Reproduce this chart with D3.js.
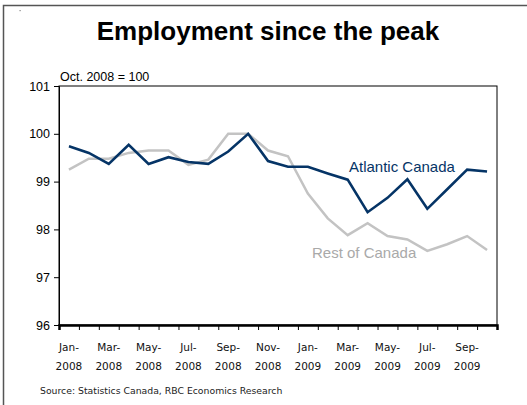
<!DOCTYPE html>
<html>
<head>
<meta charset="utf-8">
<script src="https://cdn.jsdelivr.net/npm/d3@7"></script>
<style>
  body { margin: 0; background: #fff; }
  svg { display: block; }
</style>
</head>
<body>
<div id="chart"></div>
<script>
// Data
const months = ["Jan-2008", "Feb-2008", "Mar-2008", "Apr-2008", "May-2008", "Jun-2008",
  "Jul-2008", "Aug-2008", "Sep-2008", "Oct-2008", "Nov-2008", "Dec-2008",
  "Jan-2009", "Feb-2009", "Mar-2009", "Apr-2009", "May-2009", "Jun-2009",
  "Jul-2009", "Aug-2009", "Sep-2009", "Oct-2009"];
const atlantic = [99.74, 99.60, 99.37, 99.77, 99.37, 99.51, 99.41, 99.37, 99.63, 100.0, 99.43,
  99.31, 99.31, 99.17, 99.04, 98.36, 98.66, 99.05, 98.43, 98.84, 99.25, 99.21];
const restOfCanada = [99.25, 99.48, 99.48, 99.60, 99.65, 99.65, 99.35, 99.46, 100.0, 100.0, 99.65,
  99.53, 98.75, 98.23, 97.88, 98.13, 97.86, 97.79, 97.55, 97.69, 97.86, 97.57];
const yTicks = [96, 97, 98, 99, 100, 101];

const width = 527;
const height = 405;
const margin = { top: 86, right: 30, bottom: 80, left: 59 };

const svg = d3.select("#chart")
  .append("svg")
  .attr("width", width)
  .attr("height", height);

// outer frame (only top/left show in the picture)
svg.append("rect")
  .attr("x", 3.5).attr("y", 5.5)
  .attr("width", 560).attr("height", 440)
  .attr("fill", "none")
  .attr("stroke", "#555")
  .attr("stroke-width", 1.5);
svg.append("rect")
  .attr("x", 19.5).attr("y", 10).attr("width", 1.2).attr("height", 1.2)
  .attr("fill", "#888");

// title
svg.append("text")
  .attr("x", 268).attr("y", 40)
  .attr("text-anchor", "middle")
  .attr("font-family", "Liberation Sans, Arial, sans-serif")
  .attr("font-weight", "bold")
  .attr("font-size", 26)
  .text("Employment since the peak");

svg.append("text")
  .attr("x", 60).attr("y", 81)
  .attr("font-family", "Liberation Sans, Arial, sans-serif")
  .attr("font-size", 12.5)
  .text("Oct. 2008 = 100");

// Scales
const x = d3.scaleBand()
  .domain(months)
  .range([margin.left, width - margin.right])
  .padding(0);

const y = d3.scaleLinear()
  .domain([96, 101])
  .range([height - margin.bottom, margin.top]);

// index scale for the tick marks at band edges
const xEdge = d3.scaleLinear()
  .domain([0, months.length])
  .range(x.range());

// plot frame
svg.append("rect")
  .attr("x", margin.left).attr("y", margin.top)
  .attr("width", x.range()[1] - margin.left)
  .attr("height", y(96) - margin.top)
  .attr("fill", "none")
  .attr("stroke", "#000")
  .attr("stroke-width", 1);

// Axes
const yAxis = svg.append("g")
  .attr("transform", `translate(${margin.left},0)`)
  .call(d3.axisLeft(y).tickValues(yTicks).tickSize(5).tickPadding(4).tickFormat(d3.format("d")));
yAxis.select(".domain").attr("stroke", "#000");
yAxis.selectAll("text")
  .attr("font-family", "Liberation Sans, Arial, sans-serif")
  .attr("font-size", 12.5)
  .attr("fill", "#000");

const xAxis = svg.append("g")
  .attr("transform", `translate(0,${y(96)})`)
  .call(d3.axisBottom(xEdge).tickValues(d3.range(months.length + 1)).tickSize(5).tickFormat(""));
xAxis.select(".domain").attr("stroke", "#000").attr("stroke-width", 2.5);

// month labels, every other month, two lines
const labelled = months.filter((d, i) => i % 2 === 0);
const lbl = svg.append("g")
  .attr("font-family", "DejaVu Sans, Verdana, sans-serif")
  .attr("font-size", 10.5)
  .attr("fill", "#111")
  .attr("text-anchor", "middle");
lbl.selectAll("text")
  .data(labelled)
  .join("text")
  .attr("x", d => x(d) + x.bandwidth() / 2)
  .attr("y", 351)
  .each(function (d) {
    const parts = d.split("-");
    d3.select(this).append("tspan").attr("x", x(d) + x.bandwidth() / 2).text(parts[0] + "-");
    d3.select(this).append("tspan").attr("x", x(d) + x.bandwidth() / 2).attr("dy", 19).text(parts[1]);
  });

// Lines
const line = d3.line()
  .x((d, i) => x(months[i]) + x.bandwidth() / 2)
  .y(d => y(d));

svg.append("path")
  .datum(restOfCanada)
  .attr("fill", "none")
  .attr("stroke", "#c3c3c3")
  .attr("stroke-width", 2.5)
  .attr("stroke-linejoin", "miter")
  .attr("d", line);

svg.append("path")
  .datum(atlantic)
  .attr("fill", "none")
  .attr("stroke", "#053466")
  .attr("stroke-width", 2.6)
  .attr("stroke-linejoin", "miter")
  .attr("d", line);

// series labels
svg.append("text")
  .attr("x", 349).attr("y", 171.5)
  .attr("font-family", "Liberation Sans, Arial, sans-serif")
  .attr("font-size", 15)
  .attr("fill", "#053466")
  .text("Atlantic Canada");

svg.append("text")
  .attr("x", 312).attr("y", 257.5)
  .attr("font-family", "Liberation Sans, Arial, sans-serif")
  .attr("font-size", 15)
  .attr("fill", "#a9a9a9")
  .text("Rest of Canada");

// source
svg.append("text")
  .attr("x", 40).attr("y", 394)
  .attr("font-family", "DejaVu Sans, Verdana, sans-serif")
  .attr("font-size", 9.3)
  .attr("fill", "#222")
  .text("Source: Statistics Canada, RBC Economics Research");
</script>
</body>
</html>
